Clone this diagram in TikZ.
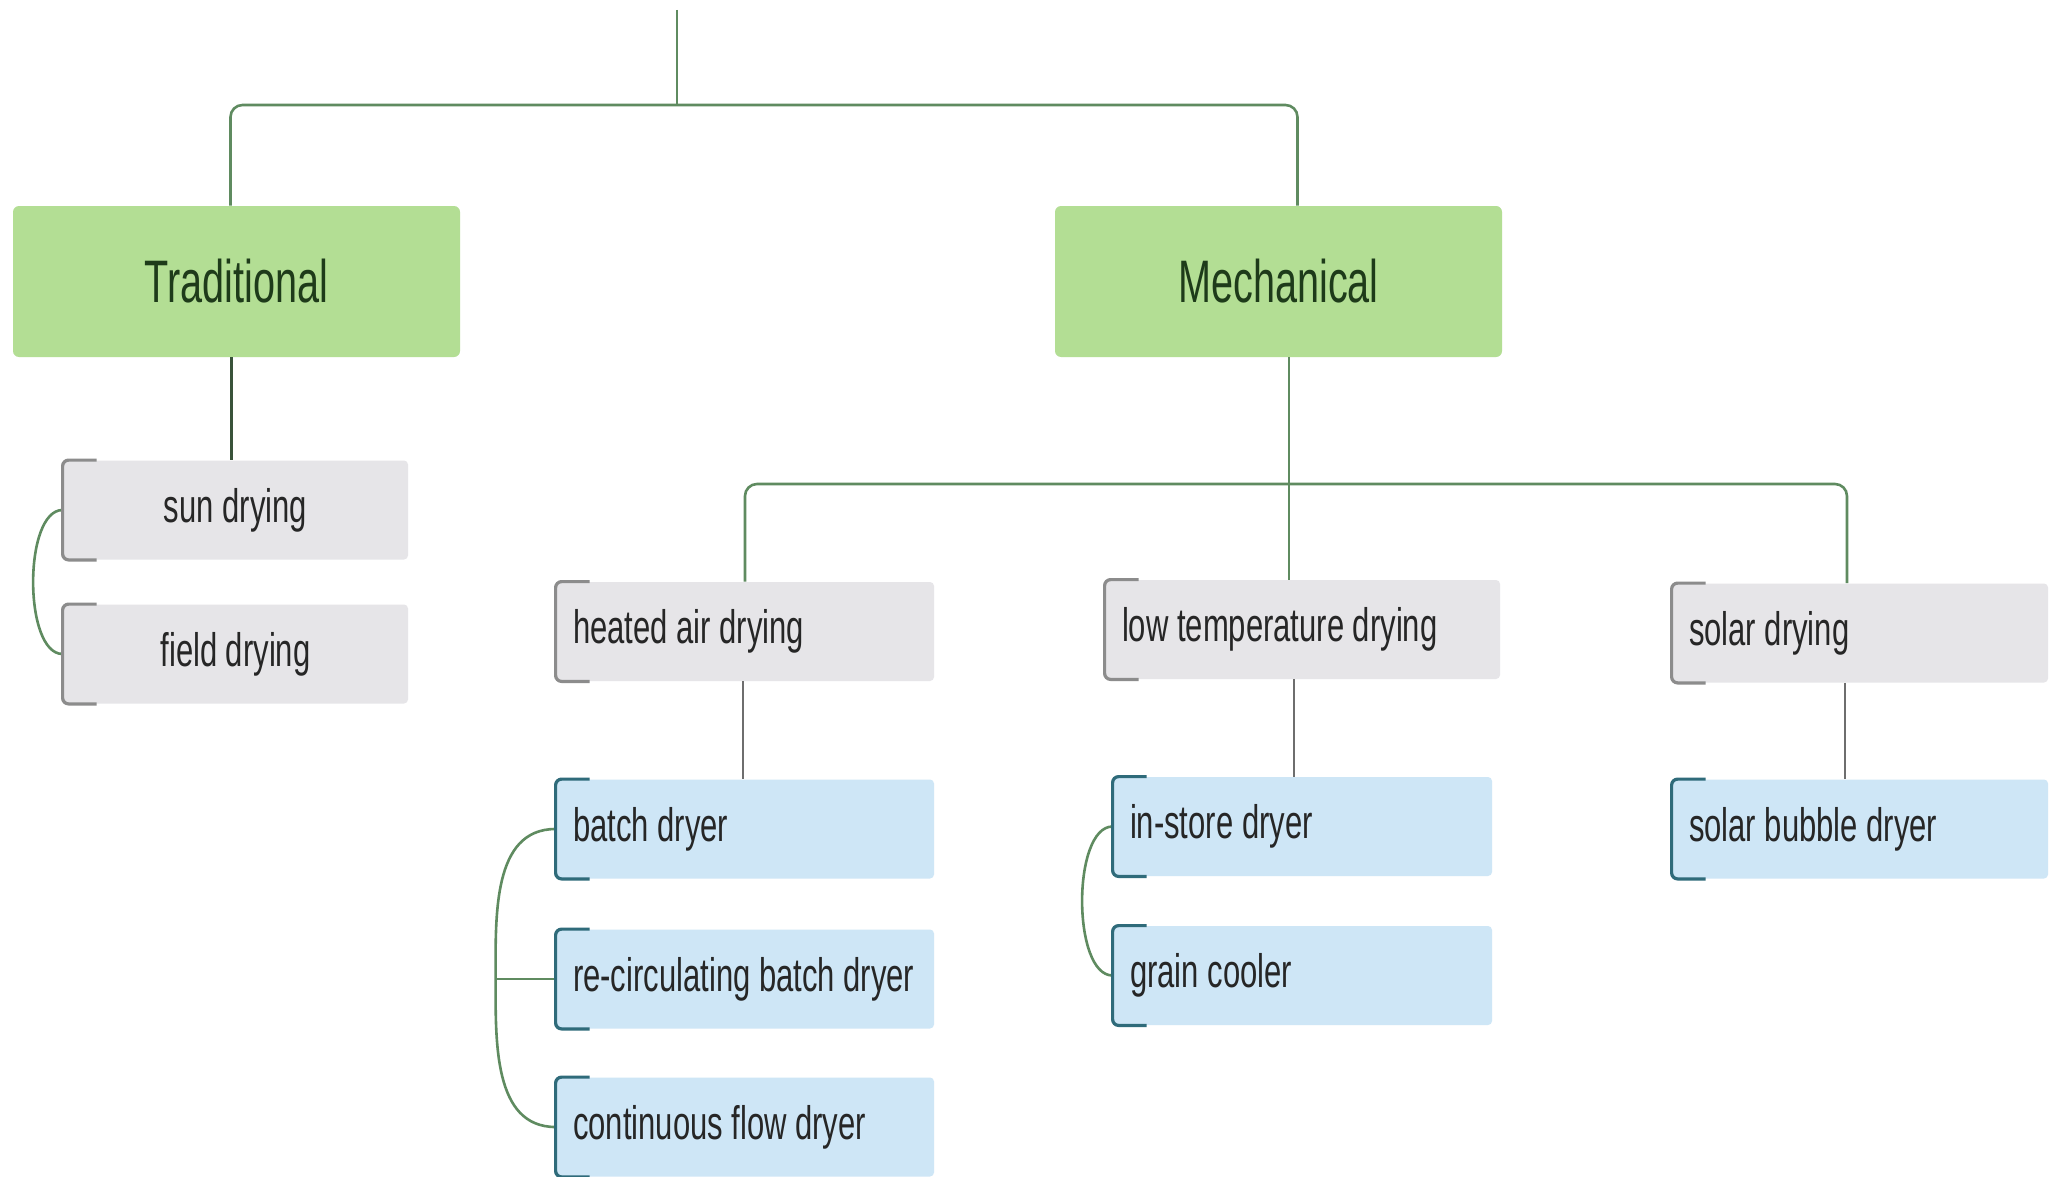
\documentclass[tikz,border=0pt]{standalone}
\usepackage{fontspec}
\setmainfont[FakeStretch=0.66]{Liberation Sans}
\usetikzlibrary{positioning}
\definecolor{headfill}{HTML}{B3DE94}
\definecolor{headtext}{HTML}{1E3B1A}
\definecolor{grayfill}{HTML}{E6E5E8}
\definecolor{bluefill}{HTML}{CEE6F6}
\definecolor{graybrk}{HTML}{8C8C8C}
\definecolor{bluebrk}{HTML}{2F6B7A}
\definecolor{linkgreen}{HTML}{5F8B60}
\definecolor{linkgray}{HTML}{6E6E6E}
\definecolor{itemtext}{HTML}{262626}
\tikzset{
  headbox/.style={fill=headfill, rounded corners=3pt, minimum width=223.5pt,
    minimum height=75.5pt, text=headtext, font=\fontsize{30}{36}\selectfont},
  grayitem/.style={fill=grayfill, rounded corners=2pt, minimum height=49.5pt,
    inner xsep=8.5pt, align=flush left, text=itemtext, font=\fontsize{23.5}{28}\selectfont},
  blueitem/.style={grayitem, fill=bluefill},
  greenlink/.style={draw=linkgreen, line width=1.3pt},
  graylink/.style={draw=linkgray, line width=1.2pt},
  greencurve/.style={draw=linkgreen, line width=1.3pt},
  graybracket/.style={draw=graybrk, line width=1.6pt, rounded corners=3pt},
  bluebracket/.style={draw=bluebrk, line width=1.6pt, rounded corners=3pt}
}
\begin{document}
\begin{tikzpicture}[x=0.5pt, y=-0.5pt, node distance=74.5pt]
\useasboundingbox[fill=white] (0,0) rectangle (2056,1177);
% top level
\node[headbox] (trad) at (236.5,281.5) {Traditional};
\node[headbox] (mech) at (1278.5,281.5) {Mechanical};
\coordinate (root) at (677,10);
\coordinate (fork) at (677,105);
\draw[greenlink] (root) -- (fork);
\draw[greenlink, rounded corners=6pt] ([xshift=-3pt]trad.north) |- (fork) -| ([xshift=9.5pt]mech.north);
% traditional
\node[grayitem, minimum width=172.5pt, align=center] (sun) at (235.5,510) {sun drying};
\node[grayitem, minimum width=172.5pt, align=center, below of=sun, node distance=72pt] (field) {field drying};
\draw[graylink, draw=linkgreen!60!black] ([xshift=-2.5pt]trad.south) -- ([xshift=-2.5pt]trad.south |- sun.north);
\draw[greencurve] (sun.west) to[out=180, in=180, looseness=0.7] (field.west);
% mechanical
\node[grayitem, text width=172pt] (heated) at (745,631.5) {heated air drying};
\node[grayitem, text width=180.5pt] (low) at (1302.5,629.5) {low temperature drying};
\node[grayitem, text width=171pt] (solar) at (1860,633) {solar drying};
\coordinate (mbar) at (1289,484);
\draw[greenlink] ([xshift=5.25pt]mech.south) -- ([xshift=5.25pt]mech.south |- low.north);
\draw[greenlink, rounded corners=6pt] (heated.north) |- (mbar) -| ([xshift=-6.5pt]solar.north);
% dryers
\node[blueitem, text width=172pt] (batch) at (745,829) {batch dryer};
\node[blueitem, text width=172pt, below of=batch, node distance=75pt] (recirc) {re-circulating batch dryer};
\node[blueitem, text width=172pt, below of=recirc, node distance=74pt] (cont) {continuous flow dryer};
\node[blueitem, text width=172.5pt] (instore) at (1302.5,826.5) {in-store dryer};
\node[blueitem, text width=172.5pt, below of=instore] (grain) {grain cooler};
\node[blueitem, text width=171pt] (bubble) at (1860,829) {solar bubble dryer};
\draw[graylink] ([xshift=-1pt]heated.south) -- ([xshift=-1pt]heated.south |- batch.north);
\draw[graylink] ([xshift=-4.25pt]low.south) -- ([xshift=-4.25pt]low.south |- instore.north);
\draw[graylink] ([xshift=-7.5pt]solar.south) -- ([xshift=-7.5pt]solar.south |- bubble.north);
\coordinate (bjoin) at ([xshift=-30pt]recirc.west);
\draw[greencurve] (batch.west) to[out=180, in=90] (bjoin) to[out=-90, in=180] (cont.west);
\draw[greencurve] (bjoin) -- (recirc.west);
\draw[greencurve] (instore.west) to[out=180, in=180, looseness=0.7] (grain.west);
% brackets
\foreach \n in {sun,field,heated,low,solar}
  \draw[graybracket] ([xshift=17pt]\n.north west) -- (\n.north west) -- (\n.south west) -- ([xshift=17pt]\n.south west);
\foreach \n in {batch,recirc,cont,instore,grain,bubble}
  \draw[bluebracket] ([xshift=17pt]\n.north west) -- (\n.north west) -- (\n.south west) -- ([xshift=17pt]\n.south west);
\end{tikzpicture}
\end{document}
